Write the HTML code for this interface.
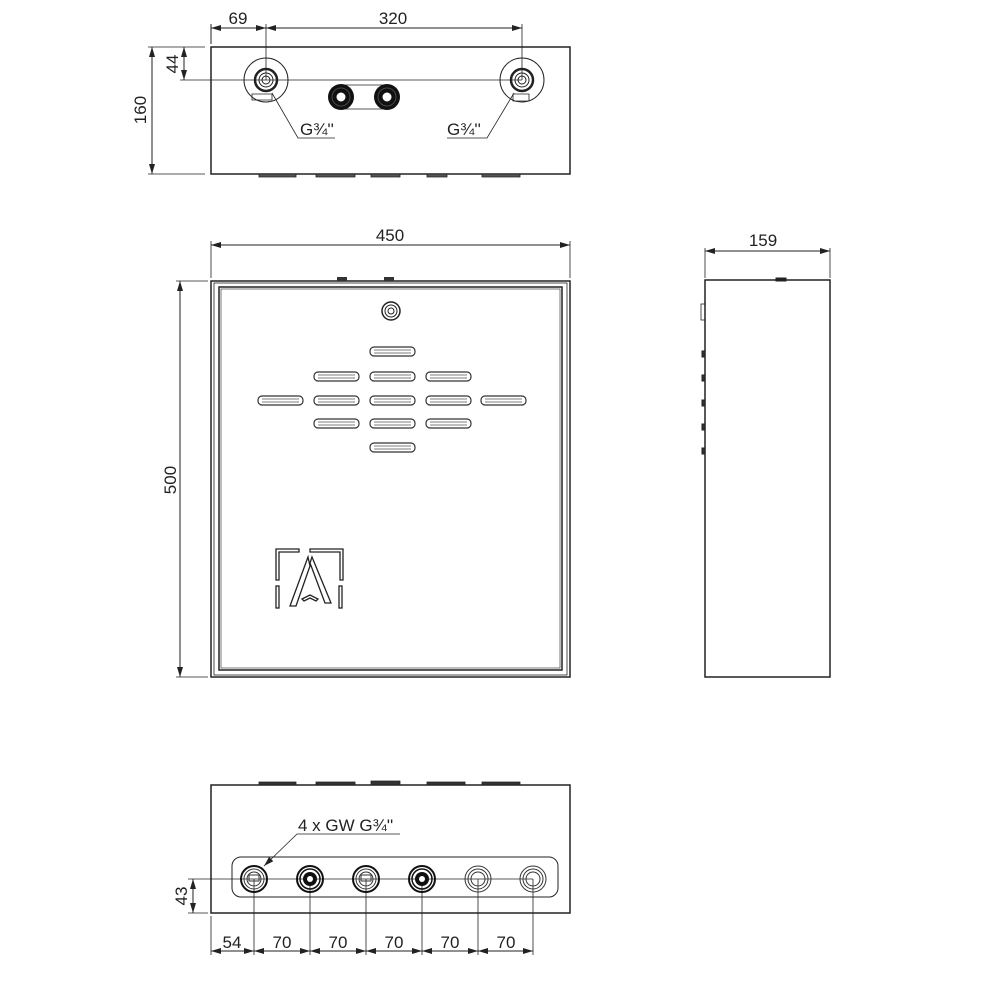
<!DOCTYPE html>
<html><head><meta charset="utf-8"><style>
html,body{margin:0;padding:0;background:#fff;width:1000px;height:1000px;overflow:hidden}
text{font-family:"Liberation Sans",sans-serif;fill:#222}
</style></head><body>
<svg width="1000" height="1000" viewBox="0 0 1000 1000" xmlns="http://www.w3.org/2000/svg">
<defs>
<marker id="a" viewBox="0 0 10 6" refX="10" refY="3" markerWidth="10" markerHeight="6" orient="auto-start-reverse" markerUnits="userSpaceOnUse"><path d="M0,0L10,3L0,6z" fill="#222"/></marker>
<g id="vent"><rect x="0" y="0" width="45" height="9" rx="4" fill="none" stroke="#333" stroke-width="1.2"/><line x1="4" y1="3" x2="41" y2="3" stroke="#555" stroke-width="0.8"/><line x1="4" y1="6" x2="41" y2="6" stroke="#555" stroke-width="0.8"/></g>
<g id="blk"><circle r="13" fill="#111"/><circle r="9" fill="none" stroke="#555" stroke-width="0.8"/><circle r="5" fill="#fff" stroke="#111"/></g>
<g id="wfit"><circle r="13" fill="none" stroke="#333"/><circle r="10" fill="none" stroke="#333"/><circle r="7" fill="none" stroke="#333"/></g>
<g id="bfit"><circle r="13" fill="none" stroke="#111" stroke-width="2"/><circle r="10" fill="none" stroke="#111" stroke-width="1.5"/><circle r="7" fill="#111"/><circle r="3" fill="#fff"/></g>
<g id="gfit"><circle r="13" fill="none" stroke="#111" stroke-width="2"/><circle r="10" fill="none" stroke="#333"/><circle r="7" fill="none" stroke="#333"/><rect x="-5" y="-4" width="10" height="6" fill="none" stroke="#333"/></g>
</defs>
<g stroke="#222" fill="none" stroke-width="1">
<!-- TOP VIEW -->
<rect x="211" y="47" width="359" height="127" stroke-width="1.5"/>
<path d="M259 174h37v3h-37zM316 174h39v3h-39zM371 174h29v3h-29zM427 174h20v3h-20zM482 174h38v3h-38z" fill="#555" stroke-width="0.8"/>
<line x1="211" y1="44" x2="211" y2="24"/><line x1="266" y1="24" x2="266" y2="80" stroke-width="0.8"/><line x1="522" y1="24" x2="522" y2="80" stroke-width="0.8"/>
<line x1="211" y1="28" x2="266" y2="28" marker-start="url(#a)" marker-end="url(#a)"/>
<line x1="266" y1="28" x2="522" y2="28" marker-start="url(#a)" marker-end="url(#a)"/>
<line x1="148" y1="47" x2="205" y2="47" stroke-width="0.8"/><line x1="148" y1="174" x2="205" y2="174" stroke-width="0.8"/>
<line x1="152" y1="47" x2="152" y2="174" marker-start="url(#a)" marker-end="url(#a)"/>
<line x1="180" y1="80" x2="522" y2="80" stroke-width="0.8"/>
<line x1="184" y1="47" x2="184" y2="80" marker-start="url(#a)" marker-end="url(#a)"/>
<circle cx="266" cy="80" r="22"/><circle cx="522" cy="80" r="22"/>
<circle cx="266" cy="80" r="11" stroke-width="2.5"/><circle cx="266" cy="80" r="7"/><circle cx="266" cy="80" r="4"/>
<circle cx="522" cy="80" r="11" stroke-width="2.5"/><circle cx="522" cy="80" r="7"/><circle cx="522" cy="80" r="4"/>
<path d="M252 94h20v6h-20z" stroke-width="0.8"/><path d="M513 94h16v7h-16z" stroke-width="0.8"/>
<line x1="340" y1="85" x2="387" y2="85" stroke-width="0.8"/><line x1="340" y1="109" x2="387" y2="109" stroke-width="0.8"/>
<polyline points="272,93 298,138 335,138" stroke-width="0.8"/><polyline points="514,93 487,138 447,138" stroke-width="0.8"/>
<!-- FRONT VIEW -->
<line x1="211" y1="241" x2="211" y2="278" stroke-width="0.8"/><line x1="570" y1="241" x2="570" y2="278" stroke-width="0.8"/>
<line x1="211" y1="245" x2="570" y2="245" marker-start="url(#a)" marker-end="url(#a)"/>
<line x1="176" y1="281" x2="208" y2="281" stroke-width="0.8"/><line x1="176" y1="677" x2="208" y2="677" stroke-width="0.8"/>
<line x1="180" y1="281" x2="180" y2="677" marker-start="url(#a)" marker-end="url(#a)"/>
<rect x="211" y="281" width="359" height="396" stroke-width="1.5"/>
<rect x="214" y="283" width="353" height="392" stroke-width="0.8"/>
<rect x="219" y="287" width="343" height="383" stroke-width="1.5"/>
<rect x="221" y="289" width="339" height="379" stroke-width="0.6"/>
<path d="M337 277h10v4h-10zM384 277h10v4h-10z" fill="#333" stroke="none"/>
<circle cx="391" cy="311" r="9" stroke-width="1.5"/><circle cx="391" cy="311" r="6"/><circle cx="391" cy="311" r="3"/>
<!-- logo -->
<g stroke-width="1.3">
<path d="M276 549h23v3h-20v28h-3z"/><path d="M310 549h33v31h-3v-28h-30z"/>
<rect x="276" y="586" width="3" height="22"/><rect x="339" y="586" width="3" height="22"/>
<path d="M308 557L290 606h6l14-40z"/><path d="M310 563l15 40h6l-19-46z"/><path d="M302 599l8-4 8 4-2 2-6-3-6 3z"/>
</g>
<!-- SIDE VIEW -->
<line x1="705" y1="248" x2="705" y2="278" stroke-width="0.8"/><line x1="830" y1="248" x2="830" y2="278" stroke-width="0.8"/>
<line x1="705" y1="251" x2="830" y2="251" marker-start="url(#a)" marker-end="url(#a)"/>
<rect x="705" y="280" width="125" height="397" stroke-width="1.5"/>
<path d="M776 278h10v3h-10z" fill="#222"/>
<rect x="701" y="304" width="4" height="16" stroke-width="0.8"/>
<path d="M702 351h3v6h-3zM702 375h3v6h-3zM702 400h3v6h-3zM702 424h3v6h-3zM702 448h3v6h-3z" fill="#333"/>
<!-- BOTTOM VIEW -->
<rect x="211" y="785" width="359" height="128" stroke-width="1.5"/>
<path d="M259 782h37v3h-37zM316 782h39v3h-39zM371 781h29v4h-29zM427 782h38v3h-38zM482 782h38v3h-38z" fill="#333" stroke-width="0.8"/>
<rect x="232" y="857" width="326" height="40" rx="9" stroke-width="1"/>
<line x1="188" y1="879" x2="533" y2="879" stroke-width="0.8"/>
<line x1="188" y1="913" x2="208" y2="913" stroke-width="0.8"/>
<line x1="193" y1="879" x2="193" y2="913" marker-start="url(#a)" marker-end="url(#a)"/>
<g stroke-width="0.8"><line x1="211" y1="916" x2="211" y2="955"/><line x1="254" y1="879" x2="254" y2="955"/><line x1="310" y1="879" x2="310" y2="955"/><line x1="366" y1="879" x2="366" y2="955"/><line x1="422" y1="879" x2="422" y2="955"/><line x1="478" y1="879" x2="478" y2="955"/><line x1="533" y1="879" x2="533" y2="955"/></g>
<line x1="211" y1="951" x2="254" y2="951" marker-start="url(#a)" marker-end="url(#a)"/>
<line x1="254" y1="951" x2="310" y2="951" marker-start="url(#a)" marker-end="url(#a)"/>
<line x1="310" y1="951" x2="366" y2="951" marker-start="url(#a)" marker-end="url(#a)"/>
<line x1="366" y1="951" x2="422" y2="951" marker-start="url(#a)" marker-end="url(#a)"/>
<line x1="422" y1="951" x2="478" y2="951" marker-start="url(#a)" marker-end="url(#a)"/>
<line x1="478" y1="951" x2="533" y2="951" marker-start="url(#a)" marker-end="url(#a)"/>
<polyline points="400,834 297,834 264,866" stroke-width="0.8" marker-end="url(#a)"/>
</g>
<use href="#blk" x="341" y="97"/><use href="#blk" x="387" y="97"/>
<g>
<use href="#vent" x="370" y="347"/>
<use href="#vent" x="314" y="372"/><use href="#vent" x="370" y="372"/><use href="#vent" x="426" y="372"/>
<use href="#vent" x="258" y="396"/><use href="#vent" x="314" y="396"/><use href="#vent" x="370" y="396"/><use href="#vent" x="426" y="396"/><use href="#vent" x="481" y="396"/>
<use href="#vent" x="314" y="419"/><use href="#vent" x="370" y="419"/><use href="#vent" x="426" y="419"/>
<use href="#vent" x="370" y="443"/>
</g>
<use href="#gfit" x="254" y="879"/><use href="#bfit" x="310" y="879"/><use href="#gfit" x="366" y="879"/><use href="#bfit" x="422" y="879"/><use href="#wfit" x="478" y="879"/><use href="#wfit" x="533" y="879"/>
<g font-size="17">
<text x="238" y="24" text-anchor="middle">69</text>
<text x="393" y="24" text-anchor="middle">320</text>
<text transform="translate(146,110) rotate(-90)" text-anchor="middle">160</text>
<text transform="translate(178,64) rotate(-90)" text-anchor="middle">44</text>
<text x="300" y="135">G¾''</text>
<text x="447" y="135">G¾''</text>
<text x="390" y="241" text-anchor="middle">450</text>
<text transform="translate(176,480) rotate(-90)" text-anchor="middle">500</text>
<text x="763" y="246" text-anchor="middle">159</text>
<text x="298" y="831">4 x GW G¾''</text>
<text transform="translate(187,896) rotate(-90)" text-anchor="middle">43</text>
<text x="232" y="948" text-anchor="middle">54</text>
<text x="282" y="948" text-anchor="middle">70</text>
<text x="338" y="948" text-anchor="middle">70</text>
<text x="394" y="948" text-anchor="middle">70</text>
<text x="450" y="948" text-anchor="middle">70</text>
<text x="506" y="948" text-anchor="middle">70</text>
</g>
</svg>
</body></html>
